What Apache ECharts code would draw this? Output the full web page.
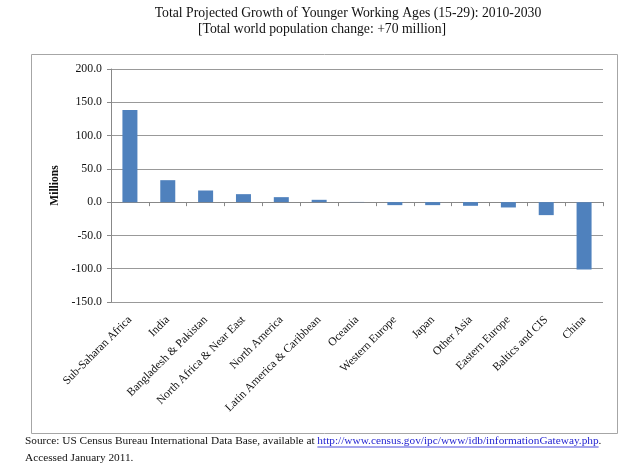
<!DOCTYPE html>
<html><head><meta charset="utf-8">
<script src="https://cdn.jsdelivr.net/npm/echarts@6/dist/echarts.min.js"></script>
<style>html,body{margin:0;padding:0;background:#fff}#c{width:640px;height:467px}</style>
</head><body><div id="c"></div>
<script>
const categories = ["Sub-Saharan Africa","India","Bangladesh & Pakistan","North Africa & Near East","North America","Latin America & Caribbean","Oceania","Western Europe","Japan","Other Asia","Eastern Europe","Baltics and CIS","China"];
const values = [138.5, 33, 17.5, 12, 7.5, 3.5, 0.3, -4.5, -4.5, -5.5, -8, -19.5, -101];
const yTicks = {min: -150, max: 200, step: 50};
const titleLines = ["Total Projected Growth of Younger Working Ages (15-29): 2010-2030", "[Total world population change: +70 million]"];
const sourceText = "Source: US Census Bureau International Data Base, available at ";
const sourceLink = "http://www.census.gov/ipc/www/idb/informationGateway.php";
const sourceLine2 = "Accessed January 2011.";

const serif = "Liberation Serif";
const srcFont = "11.3px " + serif;
const mctx = document.createElement('canvas').getContext('2d');
mctx.font = srcFont;
const w1 = mctx.measureText(sourceText).width;
const w2 = mctx.measureText(sourceLink).width;
const sx = 25, sy = 441;

const chart = echarts.init(document.getElementById('c'), null, {renderer: 'canvas'});
chart.setOption({
  animation: false,
  backgroundColor: '#fff',
  grid: {left: 111, right: 37, top: 69, bottom: 165, containLabel: false},
  graphic: [
    {type: 'rect', shape: {x: 31.5, y: 54.5, width: 586, height: 379}, style: {fill: 'none', stroke: '#a6a6a6', lineWidth: 1}, z: -1},
    {type: 'text', x: 348, y: 13, style: {text: titleLines[0], font: '13.7px ' + serif, fill: '#111', textAlign: 'center', textVerticalAlign: 'middle'}},
    {type: 'text', x: 322, y: 29, style: {text: titleLines[1], font: '13.7px ' + serif, fill: '#111', textAlign: 'center', textVerticalAlign: 'middle'}},
    {type: 'text', x: sx, y: sy, style: {text: sourceText, font: srcFont, fill: '#111', textAlign: 'left', textVerticalAlign: 'middle'}},
    {type: 'text', x: sx + w1, y: sy, style: {text: sourceLink, font: srcFont, fill: '#1f1fd0', textAlign: 'left', textVerticalAlign: 'middle'}},
    {type: 'line', shape: {x1: sx + w1, y1: sy + 6, x2: sx + w1 + w2, y2: sy + 6}, style: {stroke: '#1f1fd0', lineWidth: 0.8}},
    {type: 'text', x: sx + w1 + w2, y: sy, style: {text: '.', font: srcFont, fill: '#111', textAlign: 'left', textVerticalAlign: 'middle'}},
    {type: 'text', x: sx, y: sy + 17, style: {text: sourceLine2, font: srcFont, fill: '#111', textAlign: 'left', textVerticalAlign: 'middle'}}
  ],
  xAxis: [
    {type: 'category', data: categories, axisLine: {onZero: true, lineStyle: {color: '#888', width: 1}},
     axisTick: {show: true, interval: 0, inside: false, length: 4, lineStyle: {color: '#888'}}, axisLabel: {show: false}, splitLine: {show: false}},
    {type: 'category', data: categories, position: 'bottom', axisLine: {show: false, onZero: false}, axisTick: {show: false},
     axisLabel: {show: true, interval: 0, rotate: 45, margin: 16, fontFamily: serif, fontSize: 11.6, color: '#111'}}
  ],
  yAxis: {
    type: 'value', min: yTicks.min, max: yTicks.max, interval: yTicks.step,
    name: 'Millions', nameLocation: 'middle', nameRotate: 90, nameGap: 50,
    nameTextStyle: {fontFamily: serif, fontSize: 11.5, fontWeight: 'bold', color: '#111'},
    axisLine: {show: true, lineStyle: {color: '#888'}},
    axisTick: {show: true, length: 4, lineStyle: {color: '#888'}},
    axisLabel: {fontFamily: serif, fontSize: 11.8, color: '#111', margin: 9, formatter: v => v.toFixed(1)},
    splitLine: {show: true, lineStyle: {color: '#999', width: 1}}
  },
  series: [{type: 'bar', data: values, xAxisIndex: 0, barWidth: 15, itemStyle: {color: '#4f81bd'}}]
});
</script></body></html>
